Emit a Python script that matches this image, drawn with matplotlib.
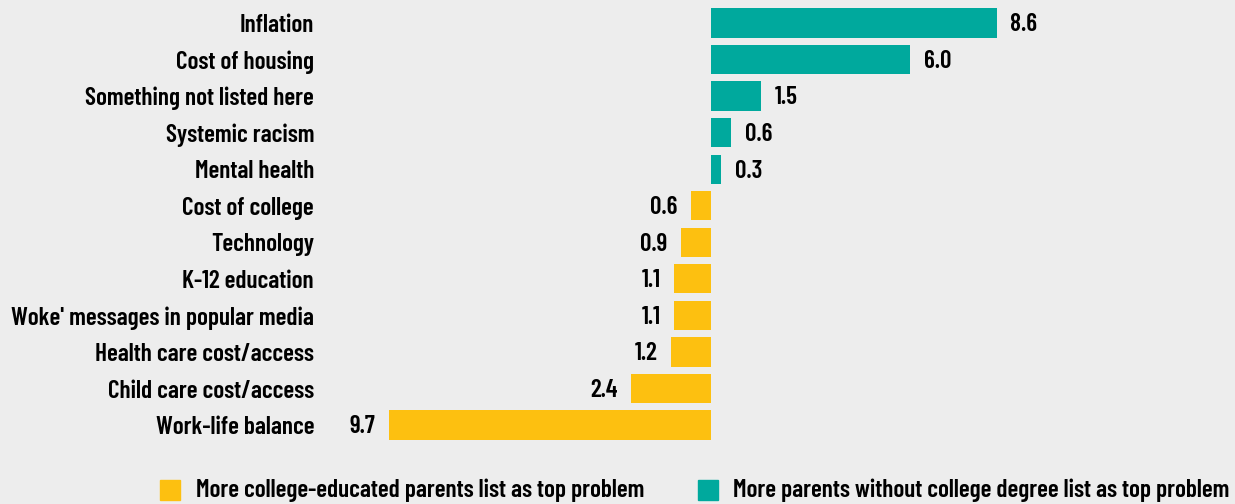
import matplotlib.pyplot as plt
from matplotlib import font_manager

# 数据
categories = ["Inflation", "Cost of housing", "Something not listed here",
              "Systemic racism", "Mental health", "Cost of college", "Technology",
              "K-12 education", "Woke' messages in popular media",
              "Health care cost/access", "Child care cost/access", "Work-life balance"]
values = [8.6, 6.0, 1.5, 0.6, 0.3, -0.6, -0.9, -1.1, -1.1, -1.2, -2.4, -9.7]
legend_labels = ["More college-educated parents list as top problem",
                 "More parents without college degree list as top problem"]

teal = "#00A99D"
yellow = "#FDC010"
bg = "#EDEDED"

names = {f.name for f in font_manager.fontManager.ttflist}
fam = "DejaVu Sans"
for cand in ["Barlow Condensed", "Roboto Condensed", "Saira Condensed", "Sofia Sans Condensed"]:
    if cand in names:
        fam = cand
        break
plt.rcParams['font.family'] = [fam, 'DejaVu Sans']
plt.rcParams['font.weight'] = 600
fs = 18.2

fig = plt.figure(figsize=(12.35, 5.04), dpi=100, facecolor=bg)
ax = fig.add_axes([330 / 1235, 54 / 504, 905 / 1235, 450 / 504])
ax.set_facecolor(bg)

y = list(range(len(categories)))
colors = [teal if v > 0 else yellow for v in values]
ax.barh(y, values, height=0.8, color=colors)

for i, v in enumerate(values):
    if v > 0:
        ax.text(v + 0.42, i + 0.05, f"{abs(v):.1f}", va='center', ha='left', fontsize=fs)
    else:
        ax.text(v - 0.42, i + 0.05, f"{abs(v):.1f}", va='center', ha='right', fontsize=fs)

ax.set_xlim(-381 / 33.2, 524 / 33.2)
ax.set_ylim(427 / 36.55, -23 / 36.55)
ax.set_yticks(y)
ax.set_yticklabels(categories, fontsize=fs)
ax.tick_params(axis='y', length=0, pad=11.5)
ax.set_xticks([])
for s in ax.spines.values():
    s.set_visible(False)

# 图例
fig.patches.append(plt.Rectangle((160 / 1235, 4 / 504), 20 / 1235, 20 / 504,
                                 transform=fig.transFigure, color=yellow))
fig.text(196 / 1235, 14 / 504, legend_labels[0], fontsize=fs, va='center')
fig.patches.append(plt.Rectangle((698 / 1235, 4 / 504), 20 / 1235, 20 / 504,
                                 transform=fig.transFigure, color=teal))
fig.text(733 / 1235, 14 / 504, legend_labels[1], fontsize=fs, va='center')

fig.savefig("out.png", facecolor=bg)
